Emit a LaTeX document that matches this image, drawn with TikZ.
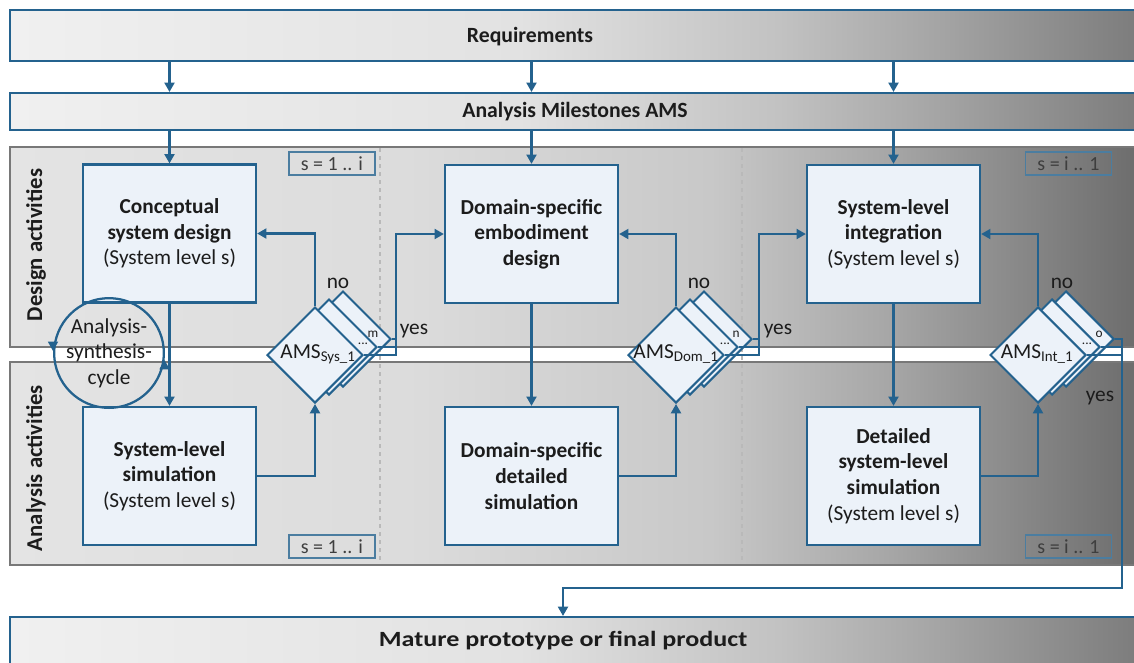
\documentclass[tikz,border=0pt]{standalone}
\usepackage{fontspec}
\usepackage{graphicx}
\setmainfont{Carlito}
\usetikzlibrary{shapes.geometric,arrows.meta,calc}
\definecolor{myblue}{RGB}{36,98,142}
\definecolor{boxfill}{RGB}{236,242,249}
\definecolor{txt}{RGB}{28,28,28}
\definecolor{lanegray}{RGB}{120,120,120}
\definecolor{sblue}{RGB}{75,125,160}
\definecolor{ba}{RGB}{240,240,240}
\definecolor{bb}{RGB}{226,226,226}
\definecolor{bc}{RGB}{194,194,194}
\definecolor{bd}{RGB}{165,165,165}
\definecolor{be}{RGB}{124,124,124}
\definecolor{la}{RGB}{228,228,228}
\definecolor{lb}{RGB}{220,220,220}
\definecolor{lc}{RGB}{200,200,200}
\definecolor{ld}{RGB}{166,166,166}
\definecolor{le}{RGB}{108,108,108}
\pgfdeclarehorizontalshading{barsh}{100bp}{color(0bp)=(ba); color(25bp)=(ba); color(47.5bp)=(bb); color(59bp)=(bc); color(66bp)=(bd); color(75bp)=(be); color(100bp)=(be)}
\pgfdeclarehorizontalshading{lanesh}{100bp}{color(0bp)=(la); color(25bp)=(la); color(42.5bp)=(lb); color(56bp)=(lc); color(64bp)=(ld); color(75bp)=(le); color(100bp)=(le)}
\begin{document}
\begin{tikzpicture}[x=0.75pt,y=-0.75pt,
  bar/.style={draw=myblue, line width=1.6pt, shading=barsh, inner sep=0, minimum width=847.5pt},
  lane/.style={draw=lanegray, line width=1.8pt, shading=lanesh, inner sep=0, minimum width=847.5pt},
  box/.style={draw=myblue, line width=1.7pt, fill=boxfill, minimum width=129.75pt, minimum height=103.5pt, inner sep=0, align=center, text=txt, font=\fontsize{16}{19.2}\selectfont},
  conn/.style={draw=myblue, line width=1.6pt, -{Triangle[length=7pt,width=7.5pt]}},
  cline/.style={draw=myblue, line width=1.6pt},
  dia/.style={diamond, draw=myblue, line width=1.5pt, fill=boxfill, minimum size=72pt, inner sep=0, aspect=1},
  sbox/.style={draw=sblue, line width=0.9pt, minimum width=64.5pt, minimum height=17.25pt, inner sep=0, text=txt!85, font=\fontsize{15}{16}\selectfont},
  lbl/.style={text=txt, font=\fontsize{16}{18}\selectfont, inner sep=0},
  blbl/.style={text=txt, font=\fontsize{16.3}{18}\selectfont\bfseries, inner sep=0},
  small/.style={text=txt, font=\fontsize{10}{10}\selectfont, inner sep=0},
  dsh/.style={draw=gray!55, dashed, line width=0.9pt}
]
\useasboundingbox (0,0) rectangle (1134,662);

% lanes
\node[lane, minimum height=150pt] (dlane) at (575,247) {};
\node[lane, minimum height=152.25pt] (alane) at (575,463.5) {};
\draw[dsh] (380,148) -- (380,563);
\draw[dsh] (742,148) -- (742,563);

% bars
\node[bar, minimum height=38.25pt] (req) at (575,35.5) {};
\node[blbl] (reqt) at (530,37) {Requirements};
\node[bar, minimum height=27.75pt] (ams) at (575,111.5) {};
\node[blbl] (amst) at (575,112) {Analysis Milestones AMS};
\node[bar, minimum height=39.75pt] (fin) at (575,643.5) {};
\node[blbl] (fint) at (563,641) {\scalebox{1.2}[1.0]{Mature prototype or final product}};

% lane labels
\node[blbl, font=\fontsize{17}{18}\selectfont\bfseries, rotate=90] (dlab) at (36,245) {Design activities};
\node[blbl, font=\fontsize{17}{18}\selectfont\bfseries, rotate=90] (alab) at (36,468) {Analysis activities};

% s boxes
\node[sbox] (sb1) at (332,163.5) {s = 1 .. i};
\node[sbox] (sb2) at (332,546.5) {s = 1 .. i};
\node[sbox] (sb3) at (1068.5,163.5) {s = i .. 1};
\node[sbox] (sb4) at (1068.5,546.5) {s = i .. 1};

% boxes
\node[box] (cd) at (169.5,233.5) {\textbf{Conceptual}\\\textbf{system design}\\(System level s)};
\node[box] (ss) at (169.5,476) {\textbf{System-level}\\\textbf{simulation}\\(System level s)};
\node[box] (dd) at (531.5,234) {\textbf{Domain-specific}\\\textbf{embodiment}\\\textbf{design}};
\node[box] (ds) at (531.5,476) {\textbf{Domain-specific}\\\textbf{detailed}\\\textbf{simulation}};
\node[box] (id) at (893.5,234) {\textbf{System-level}\\\textbf{integration}\\(System level s)};
\node[box] (is) at (893.5,476) {\textbf{Detailed}\\\textbf{system-level}\\\textbf{simulation}\\(System level s)};

% cycle
\node[circle, draw=myblue, line width=1.7pt, minimum size=75pt, inner sep=0, align=center, text=txt, font=\fontsize{16}{19}\selectfont] (cyc) at (109,353) {Analysis-\\synthesis-\\cycle};
\draw[conn, line width=1pt] ($(cyc.west)+(0,-10)$) -- ($(cyc.west)+(0,-2)$);
\draw[conn, line width=1pt] ($(cyc.east)+(-0.5,16)$) -- ($(cyc.east)+(-0.5,7)$);

% diamonds
\node[dia] (s3) at (343,339) {};
\node[dia] (s2) at (329,347) {};
\node[dia] (s1) at (315,355) {};
\node[lbl] (s1t) at (318,354) {AMS\textsubscript{Sys\_1}};
\node[small] (s1d) at (363,344) {...};
\node[small] (s1m) at (373,334) {m};

\node[dia] (d3) at (704,339) {};
\node[dia] (d2) at (690,347) {};
\node[dia] (d1) at (676,355) {};
\node[lbl] (d1t) at (676,354) {AMS\textsubscript{Dom\_1}};
\node[small] (d1d) at (725,344) {...};
\node[small] (d1m) at (736,334) {n};

\node[dia] (i3) at (1066,339) {};
\node[dia] (i2) at (1052,347) {};
\node[dia] (i1) at (1038,355) {};
\node[lbl] (i1t) at (1037,354) {AMS\textsubscript{Int\_1}};
\node[small] (i1d) at (1087,344) {...};
\node[small] (i1m) at (1099,334) {o};

% top arrows
\foreach \b in {cd,dd,id}{
  \draw[conn] (req.south -| \b) -- (ams.north -| \b);
  \draw[conn] (ams.south -| \b) -- (\b.north);
  }
% vertical design -> analysis
\draw[conn] (cd.south) -- (ss.north);
\draw[conn] (dd.south) -- (ds.north);
\draw[conn] (id.south) -- (is.north);

% analysis -> milestone
\draw[conn] (ss.east) -| (s1.south);
\draw[conn] (ds.east) -| (d1.south);
\draw[conn] (is.east) -| (i1.south);

% no
\draw[conn] (s1.north) |- (cd.east);
\draw[conn] (d1.north) |- (dd.east);
\draw[conn] (i1.north) |- (id.east);
\node[lbl] (n1) at (338,283) {no};
\node[lbl] (n2) at (699,283) {no};
\node[lbl] (n3) at (1062,283) {no};

% yes
\coordinate (ys) at (396,355);
\coordinate (yd) at (759,355);
\coordinate (yi) at (1122,588);
\draw[cline] (s3.east) -- (s3.east -| ys);
\draw[cline] (s2.east) -- (s2.east -| ys);
\draw[conn] (s1.east) -- (ys) |- (dd.west);
\draw[cline] (d3.east) -- (d3.east -| yd);
\draw[cline] (d2.east) -- (d2.east -| yd);
\draw[conn] (d1.east) -- (yd) |- (id.west);
\draw[cline] (i3.east) -- (i3.east -| yi) -- (i1.east -| yi);
\draw[cline] (i2.east) -- (i2.east -| yi);
\draw[conn] (i1.east) -- (i1.east -| yi) -- (yi) -| (fint |- fin.north);
\node[lbl] (y1) at (414,331) {yes};
\node[lbl] (y2) at (778,331) {yes};
\node[lbl] (y3) at (1100,398) {yes};
\end{tikzpicture}
\end{document}
